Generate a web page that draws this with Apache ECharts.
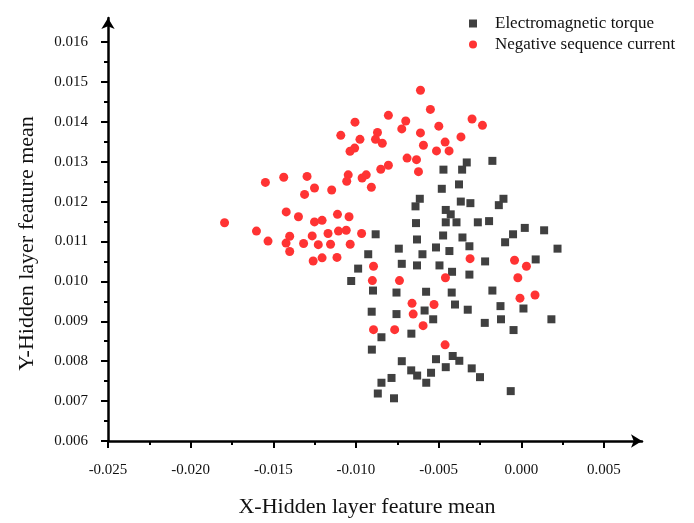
<!DOCTYPE html>
<html>
<head>
<meta charset="utf-8">
<title>Hidden layer feature mean</title>
<script src="https://cdn.jsdelivr.net/npm/echarts@6/dist/echarts.min.js"></script>
<style>
    html, body { margin: 0; padding: 0; background: #fff; }
    #main { width: 694px; height: 523px; }
</style>
</head>
<body>
<div id="main"></div>
<script>
// Electromagnetic torque (grey squares)
var torqueX = [
    -0.00330, -0.00175, -0.00471, -0.00358, -0.00481, -0.00377, -0.00614, -0.00640, -0.00366, -0.00308,
    -0.00108, -0.00136, -0.00457, -0.00427, -0.00637, -0.00457, -0.00392, -0.00263, -0.00195, 0.00021,
    -0.00050, 0.00138, -0.00098, 0.00219, -0.00881, -0.00631, -0.00473, -0.00356, -0.00314, -0.00741,
    -0.00516, -0.00435, -0.00598, -0.00926, -0.00723, -0.00631, -0.00495, -0.00219, 0.00087, -0.00987,
    -0.00419, -0.00314, -0.01029, -0.00897, -0.00755, -0.00576, -0.00421, -0.00175, -0.00905, -0.00755,
    -0.00585, -0.00533, -0.00401, -0.00324, -0.00126, 0.00013, -0.00221, -0.00123, 0.00182, -0.00047,
    -0.00846, -0.00665, -0.00904, -0.00723, -0.00666, -0.00630, -0.00546, -0.00575, -0.00516, -0.00457,
    -0.00415, -0.00375, -0.00300, -0.00250, -0.00785, -0.00846, -0.00868, -0.00770, -0.00064
];
var torqueY = [
    0.01298, 0.01302, 0.01280, 0.01280, 0.01232, 0.01243, 0.01207, 0.01188, 0.01200, 0.01196,
    0.01207, 0.01191, 0.01179, 0.01168, 0.01146, 0.01148, 0.01148, 0.01148, 0.01151, 0.01134,
    0.01118, 0.01128, 0.01098, 0.01082, 0.01118, 0.01105, 0.01115, 0.01110, 0.01088, 0.01082,
    0.01085, 0.01076, 0.01068, 0.01068, 0.01044, 0.01040, 0.01040, 0.01050, 0.01055, 0.01032,
    0.01024, 0.01017, 0.01001, 0.00977, 0.00972, 0.00974, 0.00972, 0.00977, 0.00924, 0.00918,
    0.00927, 0.00905, 0.00942, 0.00929, 0.00938, 0.00932, 0.00896, 0.00905, 0.00905, 0.00878,
    0.00860, 0.00869, 0.00829, 0.00800, 0.00777, 0.00764, 0.00771, 0.00746, 0.00805, 0.00785,
    0.00813, 0.00801, 0.00782, 0.00760, 0.00758, 0.00746, 0.00719, 0.00707, 0.00725
];

// Negative sequence current (red circles)
var currentX = [
    -0.00610, -0.00804, -0.01006, -0.00699, -0.00723, -0.01092, -0.00870, -0.00976, -0.00882, -0.00841,
    -0.01008, -0.01036, -0.00691, -0.00634, -0.00804, -0.00850, -0.00622, -0.01548, -0.01437, -0.01296,
    -0.01251, -0.01311, -0.01147, -0.01047, -0.01056, -0.00963, -0.00938, -0.00907, -0.01795, -0.01422,
    -0.01348, -0.01251, -0.01205, -0.01112, -0.01042, -0.01602, -0.01532, -0.01401, -0.01423, -0.01401,
    -0.01317, -0.01265, -0.01228, -0.01169, -0.01154, -0.01106, -0.01059, -0.00966, -0.01035, -0.01259,
    -0.01205, -0.01115, -0.00894, -0.00550, -0.00298, -0.00235, -0.00499, -0.00610, -0.00461, -0.00365,
    -0.00592, -0.00513, -0.00437, -0.00310, -0.00041, 0.00031, -0.00901, -0.00737, -0.00459, -0.00021,
    -0.00008, 0.00083, -0.00661, -0.00528, -0.00654, -0.00594, -0.00894, -0.00766, -0.00461
];
var currentY = [
    0.01479, 0.01416, 0.01399, 0.01402, 0.01382, 0.01366, 0.01373, 0.01356, 0.01356, 0.01346,
    0.01334, 0.01326, 0.01309, 0.01305, 0.01291, 0.01281, 0.01275, 0.01248, 0.01261, 0.01263,
    0.01234, 0.01218, 0.01229, 0.01267, 0.01251, 0.01259, 0.01267, 0.01236, 0.01147, 0.01174,
    0.01162, 0.01149, 0.01153, 0.01168, 0.01162, 0.01126, 0.01101, 0.01113, 0.01096, 0.01075,
    0.01095, 0.01114, 0.01092, 0.01120, 0.01093, 0.01126, 0.01128, 0.01120, 0.01093, 0.01051,
    0.01059, 0.01060, 0.01038, 0.01431, 0.01407, 0.01391, 0.01389, 0.01372, 0.01349, 0.01362,
    0.01341, 0.01327, 0.01327, 0.01057, 0.01053, 0.01038, 0.01002, 0.01002, 0.01009, 0.01009,
    0.00958, 0.00966, 0.00945, 0.00942, 0.00918, 0.00889, 0.00879, 0.00879, 0.00841
];

// axis ticks
var xTicks = [-0.025, -0.020, -0.015, -0.010, -0.005, 0.000, 0.005];
var xMinorTicks = [-0.0225, -0.0175, -0.0125, -0.0075, -0.0025, 0.0025];
var yTicks = [0.006, 0.007, 0.008, 0.009, 0.010, 0.011, 0.012, 0.013, 0.014, 0.015, 0.016];
var yMinorTicks = [0.0065, 0.0075, 0.0085, 0.0095, 0.0105, 0.0115, 0.0125, 0.0135, 0.0145, 0.0155];

var seriesNames = ['Electromagnetic torque', 'Negative sequence current'];

var zip = function (xs, ys) {
    var out = [];
    for (var i = 0; i < xs.length; i++) {
        out.push([xs[i], ys[i]]);
    }
    return out;
};

var font = 'Liberation Serif';
var xMin = -0.025, xMax = 0.0073;
var yMin = 0.006, yMax = 0.0166;

var myChart = echarts.init(document.getElementById('main'));

var option = {
    animation: false,
    textStyle: { fontFamily: font },
    grid: { left: 108, right: 52, top: 18, bottom: 79 },
    legend: {
        orient: 'vertical',
        left: 464,
        top: 10,
        itemWidth: 8,
        itemHeight: 8,
        itemGap: 4,
        textStyle: { fontFamily: font, fontSize: 17, lineHeight: 17, color: '#111', padding: [0, 0, 0, 13] },
        data: [
            { name: seriesNames[0], icon: 'rect' },
            { name: seriesNames[1], icon: 'circle' }
        ]
    },
    xAxis: [
        {
            type: 'value',
            min: xMin,
            max: xMax,
            name: 'X-Hidden layer feature mean',
            nameLocation: 'middle',
            nameGap: 55,
            nameTextStyle: { fontFamily: font, fontSize: 22, color: '#111', padding: [0, 16, 0, 0] },
            splitLine: { show: false },
            axisLine: {
                onZero: false,
                lineStyle: { color: '#000', width: 2.5 },
                symbol: ['none', 'arrow'],
                symbolSize: [10, 11]
            },
            axisTick: { customValues: xTicks, length: 7, inside: false, lineStyle: { color: '#000', width: 2 } },
            axisLabel: {
                customValues: xTicks,
                margin: 22,
                fontFamily: font,
                fontSize: 15,
                color: '#111',
                formatter: function (v) { return v.toFixed(3); }
            }
        },
        {
            type: 'value',
            min: xMin,
            max: xMax,
            position: 'bottom',
            splitLine: { show: false },
            axisLine: { show: false, onZero: false },
            axisTick: { customValues: xMinorTicks, length: 4, lineStyle: { color: '#000', width: 2 } },
            axisLabel: { show: false }
        }
    ],
    yAxis: [
        {
            type: 'value',
            min: yMin,
            max: yMax,
            name: 'Y-Hidden layer feature mean',
            nameLocation: 'middle',
            nameGap: 70,
            nameTextStyle: { fontFamily: font, fontSize: 22, color: '#111', padding: [0, 28, 0, 0] },
            splitLine: { show: false },
            axisLine: {
                onZero: false,
                lineStyle: { color: '#000', width: 2.5 },
                symbol: ['none', 'arrow'],
                symbolSize: [10, 11]
            },
            axisTick: { customValues: yTicks, length: 7, lineStyle: { color: '#000', width: 2 } },
            axisLabel: {
                customValues: yTicks,
                margin: 20,
                fontFamily: font,
                fontSize: 15,
                color: '#111',
                formatter: function (v) { return v.toFixed(3); }
            }
        },
        {
            type: 'value',
            min: yMin,
            max: yMax,
            position: 'left',
            splitLine: { show: false },
            axisLine: { show: false, onZero: false },
            axisTick: { customValues: yMinorTicks, length: 4, lineStyle: { color: '#000', width: 2 } },
            axisLabel: { show: false }
        }
    ],
    series: [
        {
            name: seriesNames[0],
            type: 'scatter',
            xAxisIndex: 0,
            yAxisIndex: 0,
            symbol: 'rect',
            symbolSize: 8,
            itemStyle: { color: '#404040', opacity: 1 },
            data: zip(torqueX, torqueY)
        },
        {
            name: seriesNames[1],
            type: 'scatter',
            xAxisIndex: 0,
            yAxisIndex: 0,
            symbol: 'circle',
            symbolSize: 9,
            itemStyle: { color: '#ff3333', opacity: 1 },
            data: zip(currentX, currentY)
        }
    ]
};

myChart.setOption(option);
window.onresize = myChart.resize;
</script>
</body>
</html>
